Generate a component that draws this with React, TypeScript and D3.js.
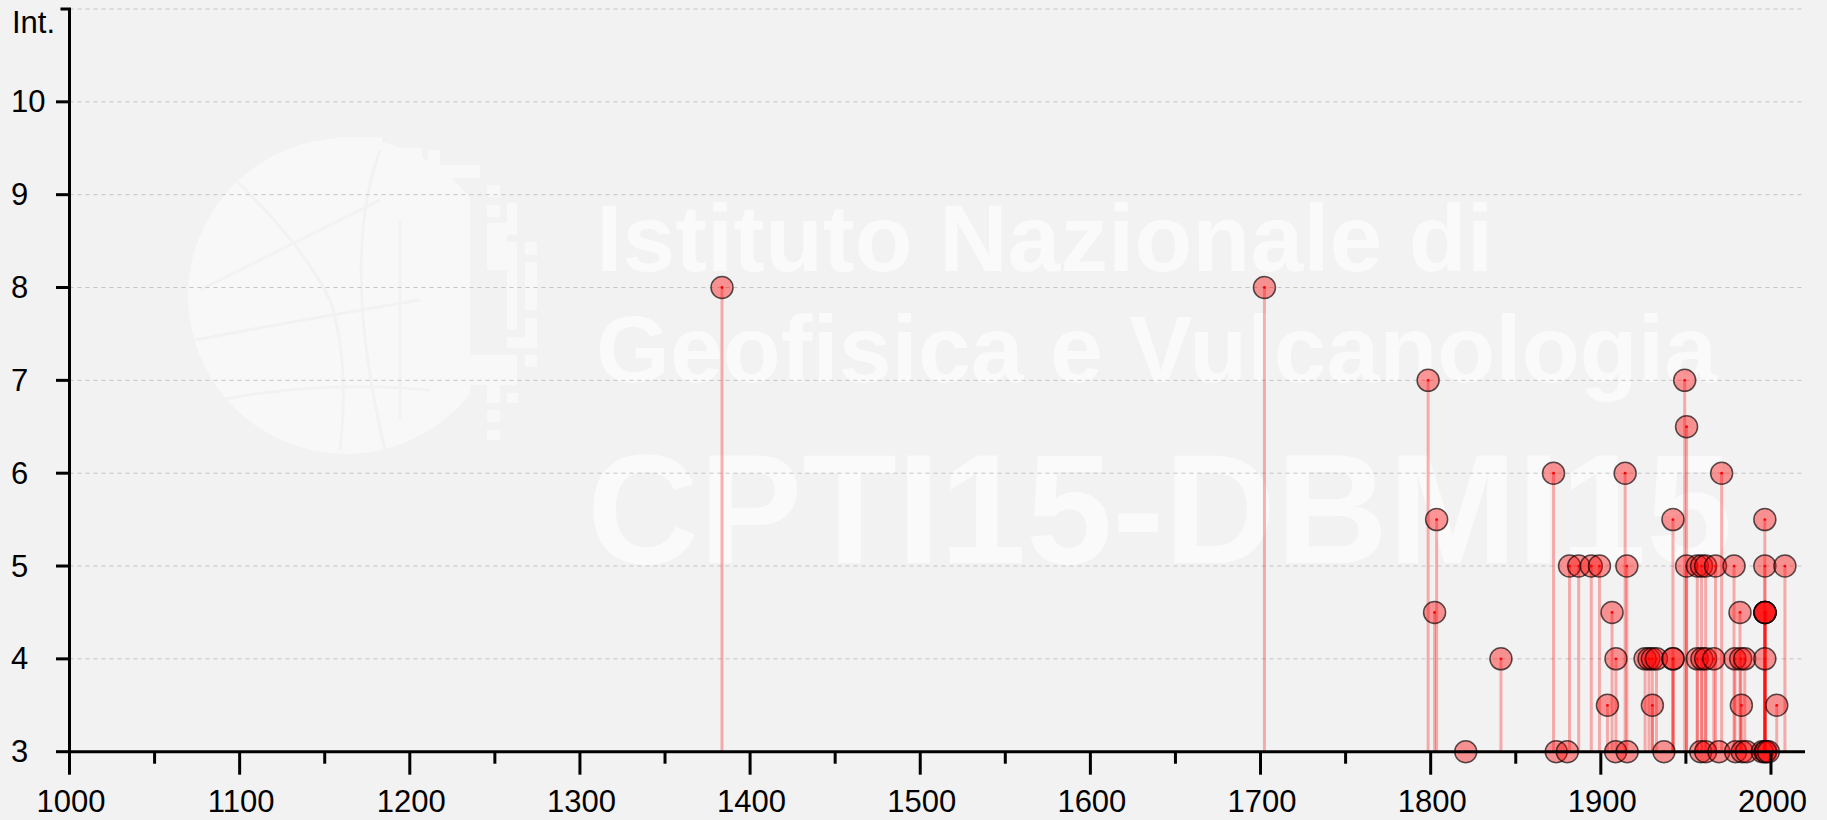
import React from 'react';
import * as d3 from 'd3';

const W = 1827;
const H = 820;

// Earthquake effects: year (decimal) and macroseismic intensity
const eventYears = [
  1383.5, 1702.3,
  1798.5, 1949.3,
  1950.4,
  1872.2, 1914.3, 1971.0,
  1803.5, 1942.4, 1996.4,
  1881.6, 1887.0, 1894.4, 1899.2, 1915.3, 1950.4, 1956.7, 1959.2, 1961.6, 1967.4, 1978.3, 1996.4, 2008.2,
  1802.3, 1906.6, 1981.8, 1996.5, 1996.5, 1996.5, 1996.5,
  1841.3, 1908.9, 1926.0, 1928.3, 1930.3, 1932.7, 1942.4, 1942.5, 1956.7, 1959.4, 1961.6, 1966.4, 1978.8, 1982.2, 1984.6, 1996.4,
  1903.9, 1930.3, 1982.6, 2003.4,
  1820.6, 1873.8, 1880.3, 1908.7, 1915.5, 1937.1, 1958.7, 1961.6, 1969.4, 1979.2, 1983.1, 1985.6, 1994.9, 1996.6, 1997.0, 1998.5,
];
const eventIntensities = [
  8, 8,
  7, 7,
  6.5,
  6, 6, 6,
  5.5, 5.5, 5.5,
  5, 5, 5, 5, 5, 5, 5, 5, 5, 5, 5, 5, 5,
  4.5, 4.5, 4.5, 4.5, 4.5, 4.5, 4.5,
  4, 4, 4, 4, 4, 4, 4, 4, 4, 4, 4, 4, 4, 4, 4, 4,
  3.5, 3.5, 3.5, 3.5,
  3, 3, 3, 3, 3, 3, 3, 3, 3, 3, 3, 3, 3, 3, 3, 3,
];

const yTickValues = [3, 4, 5, 6, 7, 8, 9, 10];
const yGridValues = [4, 5, 6, 7, 8, 9, 10, 11];
const xMajorTicks = [1000, 1100, 1200, 1300, 1400, 1500, 1600, 1700, 1800, 1900, 2000];
const xMinorTicks = [1050, 1150, 1250, 1350, 1450, 1550, 1650, 1750, 1850, 1950];
const yAxisTitle = 'Int.';
const watermarkLines = ['Istituto Nazionale di', 'Geofisica e Vulcanologia', 'CPTI15-DBMI15'];

const FONT = "'Liberation Sans', Arial, Helvetica, sans-serif";
const BG = '#f2f2f2';

const x = d3.scaleLinear().domain([1000, 2020]).range([69.5, 1805]);
const y = d3.scaleLinear().domain([3, 11]).range([751.7, 9]);

const points = eventYears.map((yr, i) => ({ year: yr, value: eventIntensities[i] }));

function Logo() {
  const blocks: [number, number, number, number][] = [
    [487, 185, 13, 12], [487, 205, 13, 12], [507, 203, 10, 32], [487, 223, 20, 47],
    [507, 242, 10, 88], [525, 242, 12, 13], [525, 262, 12, 48], [525, 318, 12, 30],
    [507, 337, 30, 11], [525, 355, 12, 12], [467, 355, 50, 30], [487, 385, 13, 18],
    [507, 393, 11, 10], [487, 410, 13, 12], [487, 430, 13, 10], [410, 165, 70, 13],
    [428, 150, 12, 15], [380, 148, 42, 10], [337, 137, 45, 13],
  ];
  return (
    <g>
      <defs>
        <clipPath id="globeClip">
          <rect x={150} y={120} width={320} height={360} />
        </clipPath>
      </defs>
      <circle cx={346} cy={296} r={158} fill="#f8f8f8" clipPath="url(#globeClip)" />
      {blocks.map((b, i) => (
        <rect key={i} x={b[0]} y={b[1]} width={b[2]} height={b[3]} fill="#f8f8f8" />
      ))}
      <g fill="none" stroke="#f2f2f2" strokeWidth={3}>
        <path d="M 230 175 Q 300 240 330 300 Q 350 360 340 450" />
        <path d="M 380 150 Q 340 260 385 450" />
        <path d="M 200 290 Q 280 250 380 200" />
        <path d="M 195 340 Q 300 320 420 300" />
        <path d="M 220 400 Q 320 380 430 390" />
        <path d="M 400 220 L 400 420" />
      </g>
    </g>
  );
}

export default function App() {
  const x0 = x.range()[0];
  const x1 = x.range()[1];
  const yBase = y(3);
  const yTop = y(11);
  return (
    <svg
      width={W}
      height={H}
      style={{ position: 'absolute', left: 0, top: 0, display: 'block', background: BG }}
      fontFamily={FONT}
    >
      <rect x={0} y={0} width={W} height={H} fill={BG} />
      <Logo />
      <g fill="#ffffff" fillOpacity={0.6} fontWeight="bold">
        <text x={596} y={270.7} fontSize={95}>{watermarkLines[0]}</text>
        <text x={596} y={381.7} fontSize={95}>{watermarkLines[1]}</text>
        <text x={587} y={563.3} fontSize={155}>{watermarkLines[2]}</text>
      </g>
      {/* grid */}
      <g stroke="#c4c4c4" strokeWidth={1} strokeDasharray="4,4">
        {yGridValues.map((v) => (
          <line key={v} x1={x0} x2={x1} y1={y(v)} y2={y(v)} />
        ))}
      </g>
      {/* stems */}
      <g stroke="#ff0000" strokeOpacity={0.3} strokeWidth={3}>
        {points.map((p, i) => (
          <line key={i} x1={x(p.year)} x2={x(p.year)} y1={y(p.value)} y2={yBase} />
        ))}
      </g>
      {/* markers */}
      <g>
        {points.map((p, i) => (
          <g key={i}>
            <circle
              cx={x(p.year)}
              cy={y(p.value)}
              r={11}
              fill="#ff0000"
              fillOpacity={0.4}
              stroke="#000"
              strokeOpacity={0.65}
              strokeWidth={1.5}
            />
            <circle cx={x(p.year)} cy={y(p.value)} r={1.4} fill="#ff0000" />
          </g>
        ))}
      </g>
      {/* axes */}
      <g stroke="#000" strokeWidth={3} fill="none">
        <path d={`M${x0 - 9},${yTop} H${x0} V${yBase} H${x1}`} />
        {yTickValues.map((v) => (
          <line key={v} x1={x0 - 13.5} x2={x0} y1={y(v)} y2={y(v)} />
        ))}
        {xMajorTicks.map((v) => (
          <line key={v} x1={x(v)} x2={x(v)} y1={yBase} y2={yBase + 23} />
        ))}
        {xMinorTicks.map((v) => (
          <line key={v} x1={x(v)} x2={x(v)} y1={yBase} y2={yBase + 12} />
        ))}
      </g>
      <g fill="#000" fontSize={31}>
        {yTickValues.map((v) => (
          <text key={v} x={11} y={y(v) + 10.5} textAnchor="start">{v}</text>
        ))}
        <text x={12} y={32.7} textAnchor="start">{yAxisTitle}</text>
        {xMajorTicks.map((v) => (
          <text key={v} x={x(v) + 1.5} y={811.7} textAnchor="middle">{v}</text>
        ))}
      </g>
    </svg>
  );
}
